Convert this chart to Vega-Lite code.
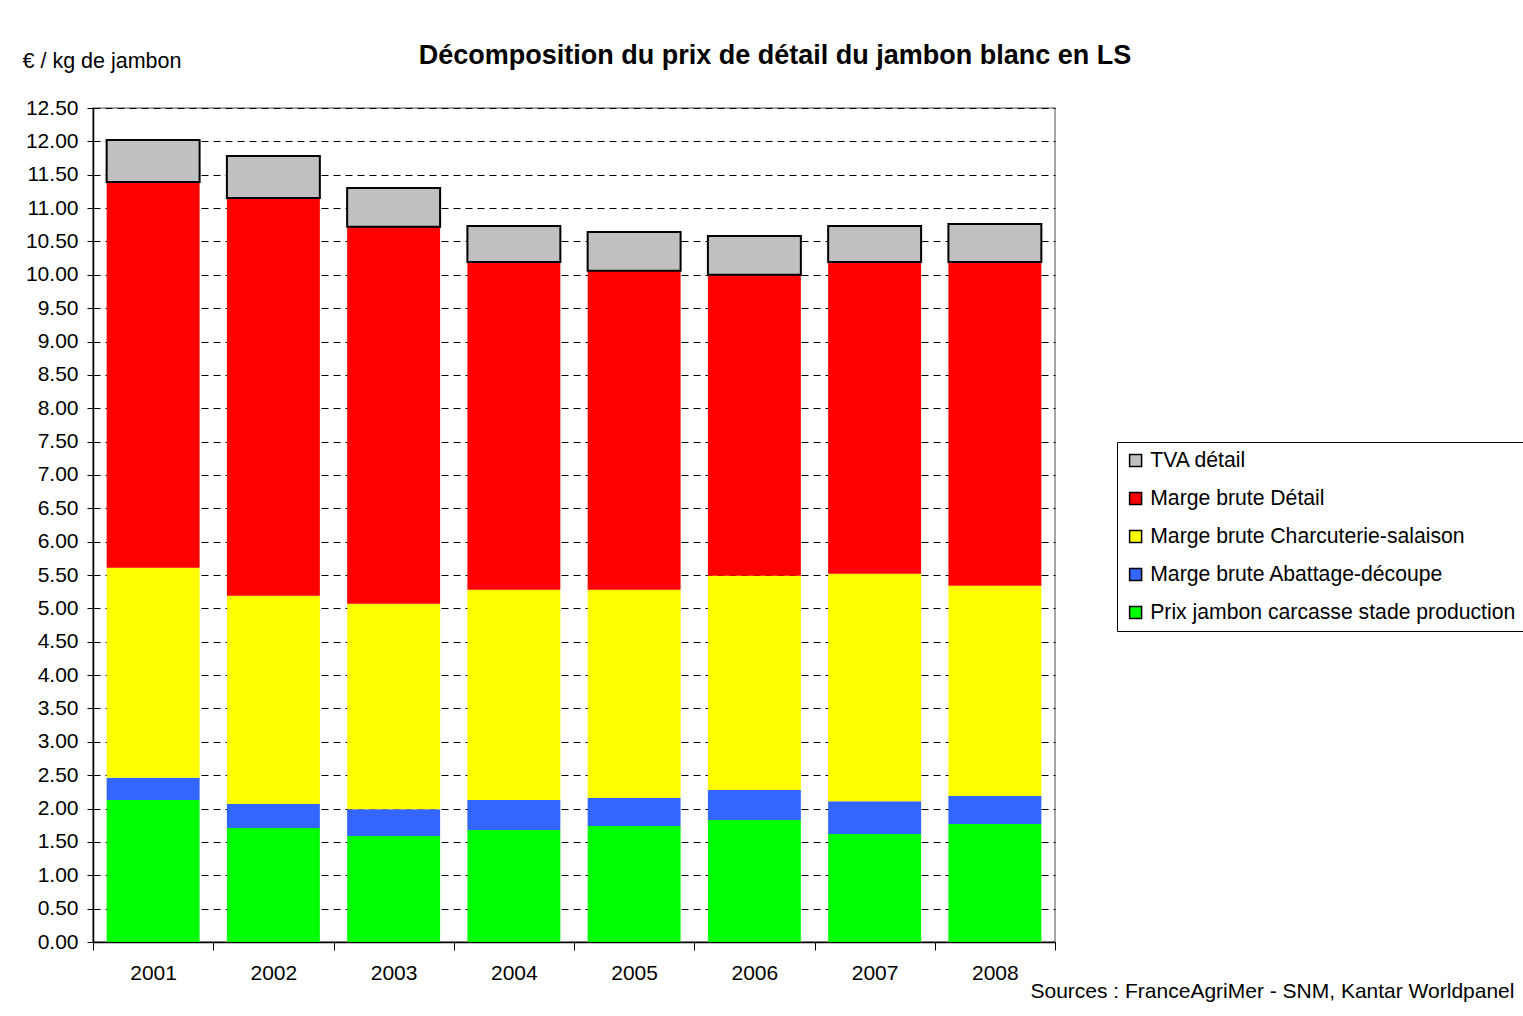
{
  "$schema": "https://vega.github.io/schema/vega-lite/v6.json",
  "autosize": {"type": "none"},
  "width": 962,
  "height": 834,
  "padding": {"left": 93, "top": 108, "right": 468, "bottom": 74},
  "background": "white",
  "title": {
    "text": "Décomposition du prix de détail du jambon blanc en LS",
    "font": "Liberation Sans",
    "fontSize": 27,
    "fontWeight": "bold",
    "color": "black",
    "anchor": "middle",
    "frame": "group",
    "dx": 201,
    "dy": 20,
    "offset": 0
  },
  "config": {
    "font": "Liberation Sans",
    "view": {"stroke": "#888888", "strokeWidth": 1.5}
  },
  "data": {
    "values": [
      {"annee": "2001", "cat": "Prix jambon carcasse stade production", "ordre": 1, "valeur": 2.13},
      {"annee": "2001", "cat": "Marge brute Abattage-découpe", "ordre": 2, "valeur": 0.33},
      {"annee": "2001", "cat": "Marge brute Charcuterie-salaison", "ordre": 3, "valeur": 3.15},
      {"annee": "2001", "cat": "Marge brute Détail", "ordre": 4, "valeur": 5.78},
      {"annee": "2001", "cat": "TVA détail", "ordre": 5, "valeur": 0.63},
      {"annee": "2002", "cat": "Prix jambon carcasse stade production", "ordre": 1, "valeur": 1.71},
      {"annee": "2002", "cat": "Marge brute Abattage-découpe", "ordre": 2, "valeur": 0.36},
      {"annee": "2002", "cat": "Marge brute Charcuterie-salaison", "ordre": 3, "valeur": 3.12},
      {"annee": "2002", "cat": "Marge brute Détail", "ordre": 4, "valeur": 5.96},
      {"annee": "2002", "cat": "TVA détail", "ordre": 5, "valeur": 0.63},
      {"annee": "2003", "cat": "Prix jambon carcasse stade production", "ordre": 1, "valeur": 1.59},
      {"annee": "2003", "cat": "Marge brute Abattage-découpe", "ordre": 2, "valeur": 0.40},
      {"annee": "2003", "cat": "Marge brute Charcuterie-salaison", "ordre": 3, "valeur": 3.08},
      {"annee": "2003", "cat": "Marge brute Détail", "ordre": 4, "valeur": 5.65},
      {"annee": "2003", "cat": "TVA détail", "ordre": 5, "valeur": 0.58},
      {"annee": "2004", "cat": "Prix jambon carcasse stade production", "ordre": 1, "valeur": 1.68},
      {"annee": "2004", "cat": "Marge brute Abattage-découpe", "ordre": 2, "valeur": 0.45},
      {"annee": "2004", "cat": "Marge brute Charcuterie-salaison", "ordre": 3, "valeur": 3.15},
      {"annee": "2004", "cat": "Marge brute Détail", "ordre": 4, "valeur": 4.91},
      {"annee": "2004", "cat": "TVA détail", "ordre": 5, "valeur": 0.54},
      {"annee": "2005", "cat": "Prix jambon carcasse stade production", "ordre": 1, "valeur": 1.74},
      {"annee": "2005", "cat": "Marge brute Abattage-découpe", "ordre": 2, "valeur": 0.42},
      {"annee": "2005", "cat": "Marge brute Charcuterie-salaison", "ordre": 3, "valeur": 3.12},
      {"annee": "2005", "cat": "Marge brute Détail", "ordre": 4, "valeur": 4.78},
      {"annee": "2005", "cat": "TVA détail", "ordre": 5, "valeur": 0.58},
      {"annee": "2006", "cat": "Prix jambon carcasse stade production", "ordre": 1, "valeur": 1.83},
      {"annee": "2006", "cat": "Marge brute Abattage-découpe", "ordre": 2, "valeur": 0.45},
      {"annee": "2006", "cat": "Marge brute Charcuterie-salaison", "ordre": 3, "valeur": 3.21},
      {"annee": "2006", "cat": "Marge brute Détail", "ordre": 4, "valeur": 4.51},
      {"annee": "2006", "cat": "TVA détail", "ordre": 5, "valeur": 0.58},
      {"annee": "2007", "cat": "Prix jambon carcasse stade production", "ordre": 1, "valeur": 1.62},
      {"annee": "2007", "cat": "Marge brute Abattage-découpe", "ordre": 2, "valeur": 0.49},
      {"annee": "2007", "cat": "Marge brute Charcuterie-salaison", "ordre": 3, "valeur": 3.41},
      {"annee": "2007", "cat": "Marge brute Détail", "ordre": 4, "valeur": 4.67},
      {"annee": "2007", "cat": "TVA détail", "ordre": 5, "valeur": 0.54},
      {"annee": "2008", "cat": "Prix jambon carcasse stade production", "ordre": 1, "valeur": 1.77},
      {"annee": "2008", "cat": "Marge brute Abattage-découpe", "ordre": 2, "valeur": 0.42},
      {"annee": "2008", "cat": "Marge brute Charcuterie-salaison", "ordre": 3, "valeur": 3.15},
      {"annee": "2008", "cat": "Marge brute Détail", "ordre": 4, "valeur": 4.85},
      {"annee": "2008", "cat": "TVA détail", "ordre": 5, "valeur": 0.57}
    ]
  },
  "mark": {"type": "bar", "stroke": "black", "strokeJoin": "miter", "width": {"band": 0.773}},
  "encoding": {
    "x": {
      "field": "annee",
      "type": "ordinal",
      "scale": {"paddingInner": 0, "paddingOuter": 0},
      "axis": {
        "title": "Sources : FranceAgriMer - SNM, Kantar Worldpanel",
        "titleX": 937,
        "titleY": 55,
        "titleAlign": "left",
        "titleBaseline": "alphabetic",
        "titleFontWeight": "normal",
        "titleFontSize": 21,
        "titleColor": "black",
        "labelAngle": 0,
        "labelFontSize": 21,
        "labelColor": "black",
        "labelPadding": 12,
        "tickBand": "extent",
        "tickSize": 8,
        "tickColor": "black",
        "domainColor": "black",
        "domainWidth": 1.5,
        "grid": false
      }
    },
    "y": {
      "field": "valeur",
      "type": "quantitative",
      "stack": "zero",
      "scale": {"domain": [0, 12.5], "nice": false},
      "axis": {
        "title": "€ / kg de jambon",
        "titleAngle": 0,
        "titleX": -71,
        "titleY": -41,
        "titleAlign": "left",
        "titleBaseline": "alphabetic",
        "titleFontWeight": "normal",
        "titleFontSize": 21.5,
        "titleColor": "black",
        "values": [0, 0.5, 1, 1.5, 2, 2.5, 3, 3.5, 4, 4.5, 5, 5.5, 6, 6.5, 7, 7.5, 8, 8.5, 9, 9.5, 10, 10.5, 11, 11.5, 12, 12.5],
        "format": ".2f",
        "labelFontSize": 21,
        "labelColor": "black",
        "labelPadding": 9,
        "tickSize": 6,
        "tickColor": "black",
        "domainColor": "black",
        "domainWidth": 1.5,
        "grid": true,
        "gridColor": "black",
        "gridDash": [7, 5],
        "gridWidth": 1
      }
    },
    "color": {
      "field": "cat",
      "type": "nominal",
      "scale": {
        "domain": ["TVA détail", "Marge brute Détail", "Marge brute Charcuterie-salaison", "Marge brute Abattage-découpe", "Prix jambon carcasse stade production"],
        "range": ["#C0C0C0", "#FF0000", "#FFFF00", "#3366FF", "#00FF00"]
      },
      "legend": {
        "title": null,
        "orient": "none",
        "legendX": 1024,
        "legendY": 334,
        "strokeColor": "black",
        "fillColor": "white",
        "padding": 8,
        "symbolType": "square",
        "symbolSize": 144,
        "symbolOpacity": 1,
        "labelFontSize": 21.2,
        "labelColor": "black",
        "labelOffset": 4,
        "labelLimit": 600,
        "rowPadding": 16,
        "encode": {
          "symbols": {
            "update": {
              "stroke": {"signal": "datum.value === 'TVA détail' ? 'black' : 'transparent'"},
              "strokeWidth": {"value": 1.5}
            }
          }
        }
      }
    },
    "order": {"field": "ordre", "type": "quantitative"},
    "strokeWidth": {
      "condition": {"test": "datum.cat === 'TVA détail'", "value": 2},
      "value": 0
    }
  }
}
